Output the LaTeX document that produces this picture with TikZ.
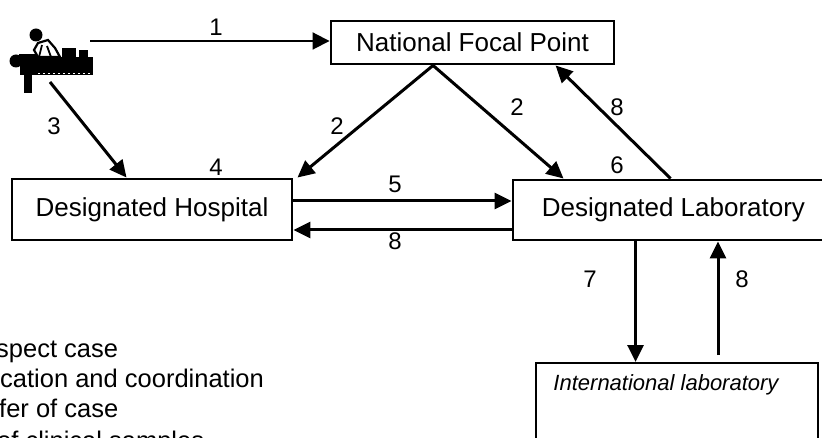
\documentclass[tikz,border=0pt]{standalone}
\usepackage{fontspec}
\setmainfont{Liberation Sans}
\usetikzlibrary{arrows.meta,calc}
\tikzset{
  box/.style={draw, line width=2.9pt, inner sep=0pt, font=\fontsize{26}{30}\selectfont},
  num/.style={inner sep=0pt, font=\fontsize{24}{28}\selectfont},
  legend/.style={inner sep=0pt, anchor=base west, font=\fontsize{25.5}{30}\selectfont},
  conn/.style={line width=3pt, -{Triangle[length=17pt,width=16pt]}},
  thinconn/.style={line width=1.9pt, -{Triangle[length=17pt,width=17pt]}}
}
\begin{document}
\begin{tikzpicture}[x=1pt,y=-1pt]
\useasboundingbox (0,0) rectangle (822,438);
\clip (0,0) rectangle (822,438);
\fill[white] (0,0) rectangle (822,438);
% boxes
\node[box, minimum width=283pt, minimum height=43pt] (nfp) at (472.5,42.5) {National Focal Point};
\node[box, minimum width=280pt, minimum height=61pt] (hosp) at (152,209.5) {Designated Hospital};
\node[box, minimum width=321pt, minimum height=60pt] (lab) at (673.5,210) {Designated Laboratory};
\node[draw, line width=2.4pt, inner sep=0pt, minimum width=282pt, minimum height=120pt, anchor=north west] (intl) at (535,362) {};
\node[inner sep=0pt, font=\fontsize{22}{26}\selectfont\itshape] (intlT) at (666,385) {International laboratory};
% icon
\fill (16,61) circle (6.5);
\fill (19,54) rectangle (40,60);
\fill (20,57) rectangle (93,75);
\fill (62,48) rectangle (76,57);
\fill (79,50) rectangle (88,57);
\fill (24,75) rectangle (32,93);
\draw[white, line width=1.8pt, dash pattern=on 2pt off 3pt] (38,73.5) -- (90,73.5);
\fill (36,35) circle (6.5);
\draw[fill=white, line width=2.2pt] (38,43) -- (48,40) -- (55,48) -- (60,57) -- (38,57) -- (34,50) -- cycle;
\draw[line width=1.8pt] (42,45) -- (39,57) (47,46) -- (51,57);
\coordinate (pat1) at (90,41);
\coordinate (pat3) at (50,82);
% anchor points
\coordinate (apex) at ($(nfp.south west)!0.362!(nfp.south east)$);
\coordinate (nfp8) at ($(nfp.south west)+(226,0)$);
\coordinate (a7s) at ($(lab.south west)+(124,0)$);
\coordinate (a7e) at (a7s |- intl.north);
\coordinate (a8s) at ($(intl.north west)+(183,-7)$);
\coordinate (a8e) at (a8s |- lab.south);
% connectors
\draw[thinconn] (pat1) -- (pat1 -| nfp.west);
\draw[conn] (pat3) -- ($(hosp.north west)+(116,0)$);
\draw[conn] (apex) -- ($(hosp.north east)+(4,0)$);
\draw[conn] (apex) -- ($(lab.north west)+(52,0)$);
\draw[conn] ($(hosp.east)+(0,-8.5)$) -- ($(lab.west)+(0,-9)$);
\draw[conn] ($(lab.west)+(0,20)$) -- ($(hosp.east)+(0,20.5)$);
\draw[conn] ($(lab.north west)+(159,0)$) -- (nfp8);
\draw[conn] (a7s) -- (a7e);
\draw[conn] (a8s) -- (a8e);
% numbers
\node[num] (n1) at (216,27) {1};
\node[num] (n3) at (54,126) {3};
\node[num] (n2a) at (337,126) {2};
\node[num] (n2b) at (517,107) {2};
\node[num] (n8a) at (617,107) {8};
\node[num] (n4) at (216,167) {4};
\node[num] (n6) at (617,165) {6};
\node[num] (n5) at (395,184) {5};
\node[num] (n8b) at (395,241) {8};
\node[num] (n7) at (590,279) {7};
\node[num] (n8c) at (742,279) {8};
% legend
\node[legend] (l1) at (-4,357) {spect case};
\node[legend] (l2) at (0,387) {cation and coordination};
\node[legend] (l3) at (-1,417) {fer of case};
\node[legend] (l4) at (-3,449) {of clinical samples};
\end{tikzpicture}
\end{document}
